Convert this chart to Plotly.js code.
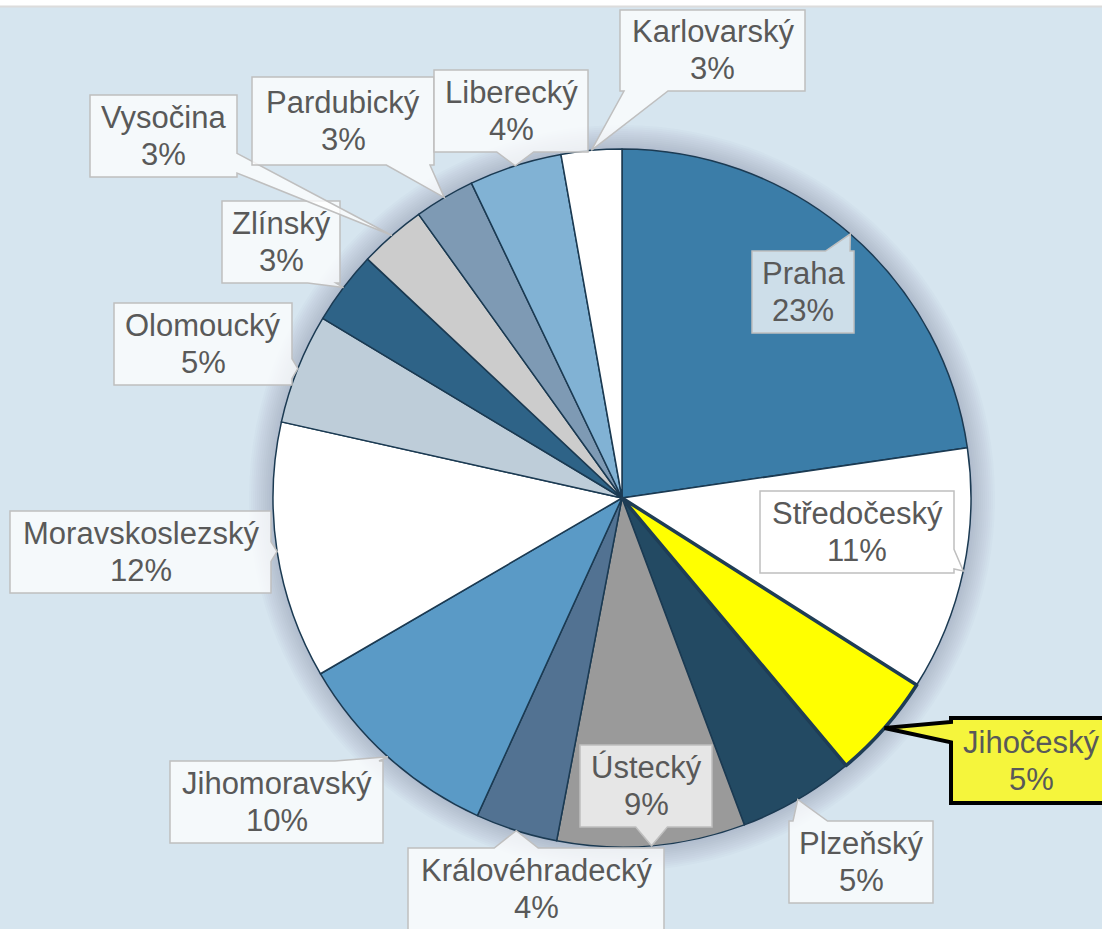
<!DOCTYPE html>
<html>
<head>
<meta charset="utf-8">
<script src="https://cdn.plot.ly/plotly-3.0.1.min.js"></script>
<style>html,body{margin:0;padding:0;background:#fff;}#chart{width:1102px;height:929px;}</style>
</head>
<body>
<div id="chart"></div>
<script>
// ---- data ----
const regions = ["Praha","Středočeský","Jihočeský","Plzeňský","Ústecký","Královéhradecký","Jihomoravský","Moravskoslezský","Olomoucký","Zlínský","Vysočina","Pardubický","Liberecký","Karlovarský"];
const shares  = [22.7, 11.3, 4.9, 5.4, 8.7, 3.8, 9.8, 11.9, 5.1, 3.4, 3.1, 2.8, 4.3, 2.8];
const highlighted = "Jihočeský";

// ---- styles / layout ----
const sliceColors = ["#3b7da8","#ffffff","#ffff00","#234a63","#9a9a9a","#527292","#5a9ac6","#ffffff","#becdd9","#2e6387","#cccccc","#7e9ab4","#81b2d4","#ffffff"];
// label boxes in pixels: [x0, y0, x1, y1]
const labelBoxes = [
  [752,251,854,333],[760,491,954,573],[951,718,1111,803],[789,821,933,903],
  [580,745,712,827],[408,848,664,930],[170,761,383,843],[10,511,271,593],
  [114,303,292,385],[222,201,340,283],[90,95,237,177],[252,77,434,165],
  [434,70,588,152],[620,10,805,91]
];
const W = 1102, H = 929;
const CX = 622, CY = 498, R = 349;
const FONT = "Liberation Sans, Arial, sans-serif";
const TEXT_COLOR = "#595959";
const FONT_SIZE = 31, LINE_GAP = 18.5;

const px = x => x / W;
const py = y => 1 - y / H;

const total = shares.reduce((a,b)=>a+b,0);
const shapes = [];

// background
shapes.push({type:'rect', xref:'paper', yref:'paper', x0:0, x1:1, y0:0, y1:py(7), fillcolor:'#d6e5ef', line:{width:0}, layer:'below'});
shapes.push({type:'line', xref:'paper', yref:'paper', x0:0, x1:1, y0:py(6.5), y1:py(6.5), line:{color:'#dcdcdc', width:2}, layer:'below'});
// soft shadow around pie
for (let i = 1; i <= 12; i++) {
  const rr = R + i * 2;
  shapes.push({type:'circle', xref:'paper', yref:'paper', x0:px(CX-rr), x1:px(CX+rr), y0:py(CY+rr), y1:py(CY-rr),
    fillcolor:'rgba(70,100,125,0.024)', line:{width:0}, layer:'below'});
}

// callouts
const annotations = [];
let cum = 0;
regions.forEach((name, i) => {
  const frac = shares[i] / total;
  const mid = (cum + frac / 2) * 2 * Math.PI;
  cum += frac;
  const tx = CX + R * Math.sin(mid), ty = CY - R * Math.cos(mid);
  const [x0,y0,x1,y1] = labelBoxes[i];
  const dxOut = Math.max(x0 - tx, tx - x1, 0);
  const dyOut = Math.max(y0 - ty, ty - y1, 0);
  const clamp = (v, a, b) => Math.max(a, Math.min(b, v));
  let pts = [];
  if (dyOut >= dxOut - 2) {
    const hw = Math.min(0.12 * (x1 - x0), 22);
    const c = clamp(tx, x0 + hw + 4, x1 - hw - 4);
    if (ty < y0) { // top
      pts = [[x0,y0],[c-hw,y0],[tx,ty],[c+hw,y0],[x1,y0],[x1,y1],[x0,y1]];
    } else { // bottom
      pts = [[x0,y0],[x1,y0],[x1,y1],[c+hw,y1],[tx,ty],[c-hw,y1],[x0,y1]];
    }
  } else {
    const hw = Math.min(0.12 * (y1 - y0), 22);
    const c = clamp(ty, y0 + hw + 4, y1 - hw - 4);
    if (tx > x1) { // right
      pts = [[x0,y0],[x1,y0],[x1,c-hw],[tx,ty],[x1,c+hw],[x1,y1],[x0,y1]];
    } else { // left
      pts = [[x0,y0],[x1,y0],[x1,y1],[x0,y1],[x0,c+hw],[tx,ty],[x0,c-hw]];
    }
  }
  const path = 'M ' + pts.map(p => px(p[0]).toFixed(5) + ',' + py(p[1]).toFixed(5)).join(' L ') + ' Z';
  const hi = name === highlighted;
  shapes.push({type:'path', xref:'paper', yref:'paper', path:path, layer:'above',
    fillcolor: hi ? '#f5f53c' : 'rgba(255,255,255,0.75)',
    line:{color: hi ? '#000000' : '#bfbfbf', width: hi ? 4 : 1.5}});
  const cxp = px((x0+x1)/2), cyc = (y0+y1)/2;
  const common = {xref:'paper', yref:'paper', x:cxp, xanchor:'center', yanchor:'middle', showarrow:false,
    font:{family:FONT, size:FONT_SIZE, color:TEXT_COLOR}};
  annotations.push(Object.assign({}, common, {y:py(cyc - LINE_GAP), text:name}));
  annotations.push(Object.assign({}, common, {y:py(cyc + LINE_GAP), text:Math.round(frac * 100) + '%'}));
});

const domain = {x:[px(CX-R), px(CX+R)], y:[py(CY+R), py(CY-R)]};
const base = {
  type:'pie', values:shares, labels:regions, sort:false, direction:'clockwise', rotation:0,
  textinfo:'none', hoverinfo:'none', showlegend:false, domain:domain
};
const trace1 = Object.assign({}, base, {
  marker:{colors:sliceColors, line:{color:'#1b3a52', width:1.5}}
});
const trace2 = Object.assign({}, base, {
  marker:{colors:regions.map((r,i)=> r===highlighted ? sliceColors[i] : 'rgba(0,0,0,0)'),
          line:{color:regions.map(r=> r===highlighted ? '#1f3d55' : 'rgba(0,0,0,0)'), width:regions.map(r=> r===highlighted ? 3.5 : 0)}}
});

Plotly.newPlot('chart', [trace1, trace2], {
  width:W, height:H, margin:{l:0,r:0,t:0,b:0}, paper_bgcolor:'#ffffff',
  shapes:shapes, annotations:annotations, showlegend:false
}, {displayModeBar:false, staticPlot:true});
</script>
</body>
</html>
